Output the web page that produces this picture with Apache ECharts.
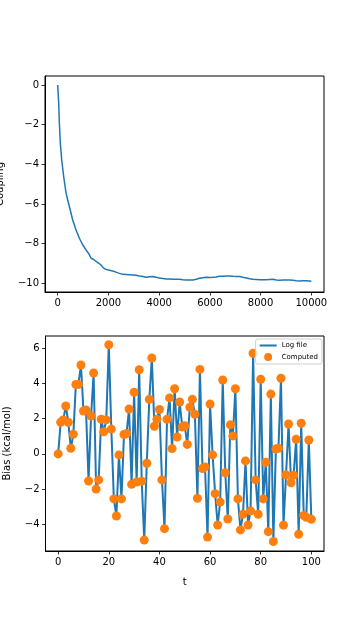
<!DOCTYPE html>
<html>
<head>
<meta charset="utf-8">
<script src="https://cdn.jsdelivr.net/npm/echarts@6/dist/echarts.min.js"></script>
<style>
html,body{margin:0;padding:0;background:#fff;}
#chart{width:360px;height:630px;}
</style>
</head>
<body>
<div id="chart"></div>
<script>
// Top panel: coupling vs step
const steps = [0, 20, 40, 66, 105, 158, 237, 330, 460, 590, 720, 855, 990, 1120, 1230, 1316, 1420, 1513, 1610, 1710, 1800, 1908, 2040, 2170, 2300, 2434, 2560, 2700, 2830, 2960, 3090, 3224, 3360, 3490, 3620, 3750, 3880, 4010, 4150, 4280, 4410, 4540, 4670, 4800, 4940, 5070, 5200, 5330, 5460, 5590, 5730, 5860, 5990, 6120, 6250, 6380, 6520, 6650, 6780, 6910, 7040, 7170, 7300, 7440, 7570, 7700, 7830, 7960, 8090, 8220, 8350, 8490, 8620, 8750, 8880, 9010, 9140, 9280, 9410, 9540, 9670, 9800, 9900, 10000];
const coupling = [0, -0.45, -0.92, -1.93, -2.94, -3.78, -4.62, -5.46, -6.13, -6.8, -7.3, -7.73, -8.07, -8.32, -8.52, -8.74, -8.8, -8.9, -8.98, -9.08, -9.22, -9.3, -9.34, -9.38, -9.44, -9.5, -9.55, -9.56, -9.57, -9.58, -9.6, -9.63, -9.66, -9.7, -9.67, -9.66, -9.7, -9.73, -9.76, -9.78, -9.79, -9.8, -9.8, -9.8, -9.82, -9.83, -9.83, -9.83, -9.8, -9.75, -9.72, -9.7, -9.71, -9.7, -9.68, -9.65, -9.64, -9.63, -9.63, -9.65, -9.66, -9.66, -9.7, -9.73, -9.77, -9.8, -9.81, -9.82, -9.82, -9.82, -9.81, -9.8, -9.83, -9.85, -9.84, -9.83, -9.84, -9.85, -9.87, -9.88, -9.87, -9.87, -9.88, -9.9];

// Bottom panel: bias vs t
const tValues = Array.from({length: 101}, (_, i) => i);
const bias = [0, 1.8, 1.93, 2.72, 1.8, 0.32, 1.12, 3.95, 3.95, 5.05,
  2.44, 2.5, -1.54, 2.15, 4.6, -2.0, -1.48, 1.97, 1.26, 1.93,
  6.2, 1.41, -2.56, -3.53, -0.06, -2.56, 1.1, 1.16, 2.55, -1.73,
  3.5, -1.6, 4.78, -1.55, -4.9, -0.53, 3.1, 5.45, 1.57, 1.97,
  2.52, -1.48, -4.25, 1.97, 3.18, 0.3, 3.7, 0.96, 2.95, 1.53,
  1.6, 0.54, 2.65, 3.1, 2.25, -2.52, 4.8, -0.83, -0.74, -4.73,
  2.83, -0.06, -2.26, -4.04, -2.74, 4.2, -1.07, -3.7, 1.65, 1.02,
  3.7, -2.56, -4.32, -3.43, -0.4, -4.04, -3.24, 5.72, -1.48, -3.43,
  4.24, -2.56, -0.48, -4.42, 3.4, -4.98, 0.28, 0.32, 4.3, -4.05,
  -1.2, 1.7, -1.64, -1.21, 0.83, -4.57, 1.74, -3.5, -3.6, 0.79,
  -3.72];

const topXTicks = [0, 2000, 4000, 6000, 8000, 10000];
const topYTicks = [-10, -8, -6, -4, -2, 0];
const botXTicks = [0, 20, 40, 60, 80, 100];
const botYTicks = [-4, -2, 0, 2, 4, 6];

const FONT = 'DejaVu Sans';
const fmt = v => String(v).replace('-', '\u2212');

function xAxis(gridIndex, min, max, ticks, name) {
  return {
    type: 'value', gridIndex, min, max,
    name: name || '', nameLocation: 'middle', nameGap: 24,
    nameTextStyle: {color: '#000', fontSize: 10, fontFamily: FONT},
    axisLine: {show: true, onZero: false, lineStyle: {color: '#000', width: 1}},
    axisTick: {show: true, inside: false, length: 3.5, customValues: ticks, lineStyle: {color: '#000', width: 0.8}},
    axisLabel: {show: true, margin: 6, customValues: ticks, formatter: fmt, color: '#000', fontSize: 10, fontFamily: FONT},
    splitLine: {show: false}
  };
}
function yAxis(gridIndex, min, max, ticks, name, gap) {
  return {
    type: 'value', gridIndex, min, max,
    name, nameLocation: 'middle', nameGap: gap,
    nameTextStyle: {color: '#000', fontSize: 10, fontFamily: FONT},
    axisLine: {show: true, onZero: false, lineStyle: {color: '#000', width: 1}},
    axisTick: {show: true, inside: false, length: 3.5, customValues: ticks, lineStyle: {color: '#000', width: 0.8}},
    axisLabel: {show: true, margin: 6, customValues: ticks, formatter: fmt, color: '#000', fontSize: 10, fontFamily: FONT},
    splitLine: {show: false}
  };
}

const chart = echarts.init(document.getElementById('chart'), null, {renderer: 'canvas'});
chart.setOption({
  animation: false,
  backgroundColor: '#fff',
  textStyle: {fontFamily: FONT},
  grid: [
    {left: 45, top: 76, width: 279, height: 216, show: true, borderColor: '#000', borderWidth: 1, backgroundColor: 'transparent', containLabel: false, outerBoundsMode: 'none'},
    {left: 45.5, top: 336, width: 278.5, height: 215, show: true, borderColor: '#000', borderWidth: 1, backgroundColor: 'transparent', containLabel: false, outerBoundsMode: 'none'}
  ],
  xAxis: [
    xAxis(0, -500, 10500, topXTicks),
    Object.assign(xAxis(1, -5, 105, botXTicks, 't'), {nameGap: 26})
  ],
  yAxis: [
    yAxis(0, -10.44, 0.45, topYTicks, 'Coupling', 40),
    yAxis(1, -5.52, 6.70, botYTicks, 'Bias (kcal/mol)', 33)
  ],
  legend: {
    right: 38, top: 339, orient: 'vertical',
    itemWidth: 17, itemHeight: 8, itemGap: 4,
    padding: [3, 4, 3, 4],
    backgroundColor: 'rgba(255,255,255,0.8)',
    borderColor: '#d0d0d0', borderWidth: 1, borderRadius: 2,
    textStyle: {fontSize: 7, color: '#000', fontFamily: FONT},
    data: [
      {name: 'Log file', icon: 'path://M0,0 L17,0 L17,2 L0,2 Z'},
      {name: 'Computed', icon: 'circle'}
    ]
  },
  series: [
    {
      type: 'line', xAxisIndex: 0, yAxisIndex: 0, showSymbol: false, symbol: 'none',
      data: steps.map((s, i) => [s, coupling[i]]),
      lineStyle: {color: '#1f77b4', width: 1.5}, itemStyle: {color: '#1f77b4'}
    },
    {
      name: 'Log file', type: 'line', xAxisIndex: 1, yAxisIndex: 1, showSymbol: false, symbol: 'none',
      data: tValues.map((t, i) => [t, bias[i]]),
      lineStyle: {color: '#1f77b4', width: 2}, itemStyle: {color: '#1f77b4'}, z: 2
    },
    {
      name: 'Computed', type: 'scatter', xAxisIndex: 1, yAxisIndex: 1, symbol: 'circle', symbolSize: 9,
      data: tValues.map((t, i) => [t, bias[i]]),
      itemStyle: {color: '#ff7f0e', opacity: 1}, z: 3
    }
  ]
});
</script>
</body>
</html>
